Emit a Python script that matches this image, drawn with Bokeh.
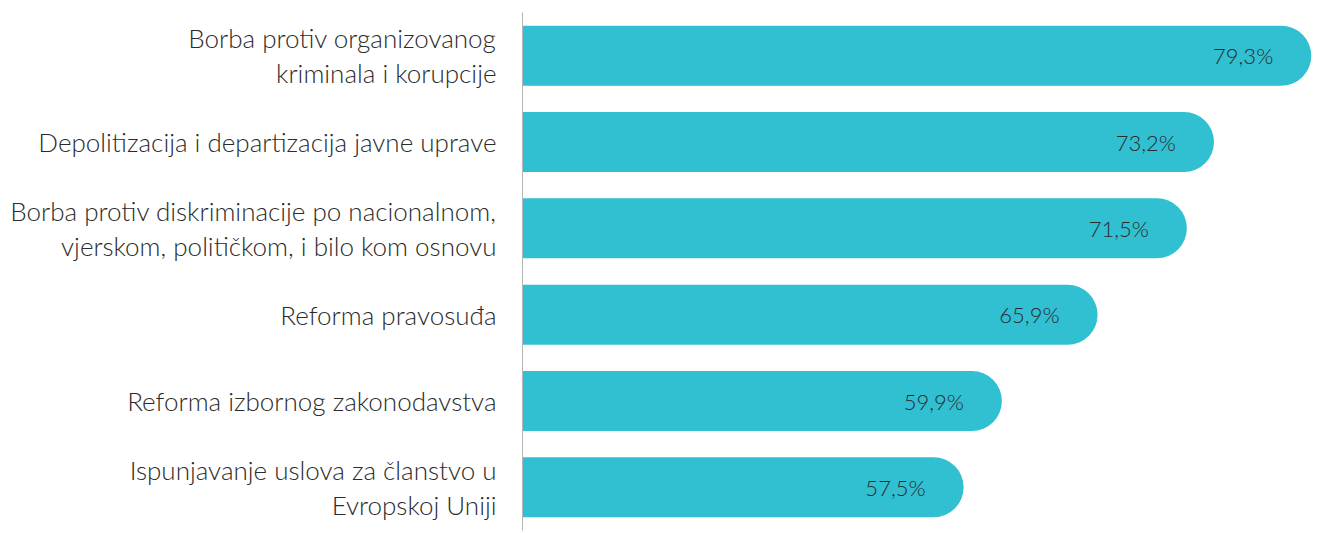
from bokeh.plotting import figure
from bokeh.models import ColumnDataSource, FactorRange, Range1d
from bokeh.core.properties import value
from bokeh.embed import file_html
from bokeh.resources import INLINE

categories = [
    "Borba protiv organizovanog\nkriminala i korupcije",
    "Depolitizacija i departizacija javne uprave",
    "Borba protiv diskriminacije po nacionalnom,\nvjerskom, političkom, i bilo kom osnovu",
    "Reforma pravosuđa",
    "Reforma izbornog zakonodavstva",
    "Ispunjavanje uslova za članstvo u\nEvropskoj Uniji",
]
values = [79.3, 73.2, 71.5, 65.9, 59.9, 57.5]
value_labels = [f"{v:.1f}".replace(".", ",") + "%" for v in values]

FONT = "Lato Light, Lato"
BAR = "#31c0d2"
TEXT = "#2b2b2b"

src = ColumnDataSource(dict(cat=categories, val=values, lab=value_labels))

p = figure(
    width=1328, height=533,
    y_range=FactorRange(factors=categories[::-1]),
    x_range=Range1d(29.84, 80.38),
    output_backend="svg", toolbar_location=None,
    min_border_left=522, min_border_right=0,
    min_border_top=12, min_border_bottom=3,
)

p.hbar(y="cat", left=29.84, right="val", height=0.695, source=src,
       fill_color=BAR, line_color=None, border_radius=(0, 30, 30, 0))

p.text(x="val", y="cat", text="lab", source=src, x_offset=-38,
       text_align="right", text_baseline="middle",
       text_font=value(FONT), text_font_size="22px", text_color=TEXT)

p.xaxis.visible = False
p.xgrid.visible = False
p.ygrid.visible = False
p.outline_line_color = None

ax = p.yaxis[0]
ax.axis_line_color = "#b5b5b5"
ax.axis_line_width = 1
ax.major_tick_line_color = None
ax.minor_tick_line_color = None
ax.major_label_standoff = 20
ax.major_label_text_font = FONT
ax.major_label_text_font_size = "26px"
ax.major_label_text_color = TEXT
ax.major_label_text_line_height = 1.1

open("out.html", "w").write(file_html(p, INLINE))
